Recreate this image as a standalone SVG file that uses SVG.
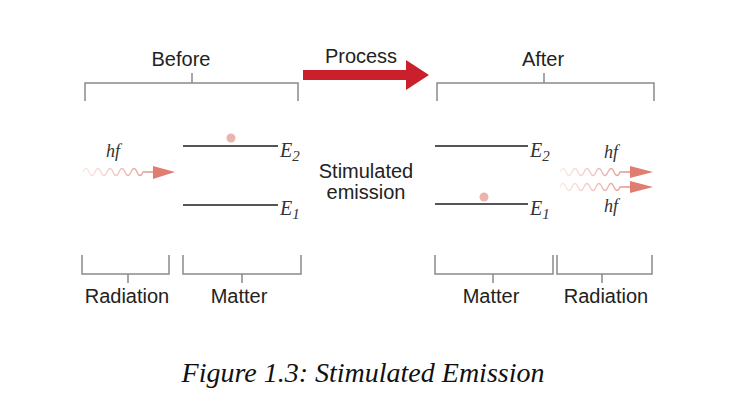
<svg xmlns="http://www.w3.org/2000/svg" width="738" height="406" viewBox="0 0 738 406">
<style>
.sans{font-family:"Liberation Sans",Arial,sans-serif;font-size:20px;fill:#222;text-anchor:middle}
.it{font-family:"Liberation Serif","Times New Roman",serif;font-style:italic;fill:#333}
.br{fill:none;stroke:#8a8a8a;stroke-width:1.5}
.lvl{stroke:#555;stroke-width:2}
.dot{fill:#e9b5ad}
.tri{fill:#e07c70}
.wave{fill:none;stroke-width:1.3}
</style>
<defs>
<linearGradient id="wg" x1="0" y1="0" x2="1" y2="0">
<stop offset="0" stop-color="#f1c6c0" stop-opacity="0.4"/>
<stop offset="1" stop-color="#e38f85"/>
</linearGradient>
</defs>
<rect width="738" height="406" fill="#fff"/>

<g id="before">
<text class="sans" x="181" y="66">Before</text>
<path class="br" d="M85,101 V83 H298 V101 M192,83 V73"/>
</g>

<g id="process">
<text class="sans" x="361" y="63">Process</text>
<polygon fill="#c9202b" points="303,70 406,70 406,60 429,75 406,90 406,80 303,80"/>
</g>

<g id="after">
<text class="sans" x="543" y="66">After</text>
<path class="br" d="M437,101 V83 H654 V101 M544,83 V73"/>
</g>

<g id="incoming-photon">
<text class="it" x="113" y="157" font-size="18" text-anchor="middle">hf</text>
<path class="wave" stroke="url(#wg)" d="M83,172 q3,-7 6,0 t6,0 t6,0 t6,0 t6,0 t6,0 t6,0 t6,0 t6,0 t6,0 l10,0"/>
<polygon class="tri" points="153,166 175,172 153,179"/>
</g>

<g id="matter-before">
<line class="lvl" x1="183" y1="146" x2="278" y2="146"/>
<line class="lvl" x1="183" y1="205" x2="278" y2="205"/>
<circle class="dot" cx="231" cy="138" r="4.5"/>
<text class="it" x="280" y="157" font-size="20">E<tspan font-size="15" dy="4">2</tspan></text>
<text class="it" x="280" y="215" font-size="20">E<tspan font-size="15" dy="4">1</tspan></text>
</g>

<g id="stimulated-emission">
<text class="sans" x="366" y="178">Stimulated</text>
<text class="sans" x="366" y="199">emission</text>
</g>

<g id="matter-after">
<line class="lvl" x1="435" y1="146" x2="528" y2="146"/>
<line class="lvl" x1="435" y1="204" x2="528" y2="204"/>
<circle class="dot" cx="484" cy="197" r="4.5"/>
<text class="it" x="530" y="157" font-size="20">E<tspan font-size="15" dy="4">2</tspan></text>
<text class="it" x="530" y="215" font-size="20">E<tspan font-size="15" dy="4">1</tspan></text>
</g>

<g id="outgoing-photons">
<text class="it" x="611" y="158" font-size="18" text-anchor="middle">hf</text>
<text class="it" x="611" y="212" font-size="18" text-anchor="middle">hf</text>
<path class="wave" stroke="url(#wg)" d="M560,172 q3,-7 6,0 t6,0 t6,0 t6,0 t6,0 t6,0 t6,0 t6,0 t6,0 t6,0 l10,0"/>
<path class="wave" stroke="url(#wg)" d="M560,187 q3,-7 6,0 t6,0 t6,0 t6,0 t6,0 t6,0 t6,0 t6,0 t6,0 t6,0 l10,0"/>
<polygon class="tri" points="630,166 653,172 630,178"/>
<polygon class="tri" points="630,181 653,187 630,193"/>
</g>

<g id="bottom-left">
<path class="br" d="M82,255 V274 H169 V255 M128,274 V283"/>
<path class="br" d="M183,255 V274 H301 V255 M242,274 V283"/>
<text class="sans" x="127" y="303">Radiation</text>
<text class="sans" x="239" y="303">Matter</text>
</g>

<g id="bottom-right">
<path class="br" d="M435,255 V274 H553 V255 M493,274 V283"/>
<path class="br" d="M557,255 V274 H652 V255 M602,274 V283"/>
<text class="sans" x="491" y="303">Matter</text>
<text class="sans" x="606" y="303">Radiation</text>
</g>

<text id="caption" x="363" y="382" font-family="'Liberation Serif','Times New Roman',serif" font-style="italic" font-size="28" fill="#111" text-anchor="middle">Figure 1.3: Stimulated Emission</text>
</svg>
